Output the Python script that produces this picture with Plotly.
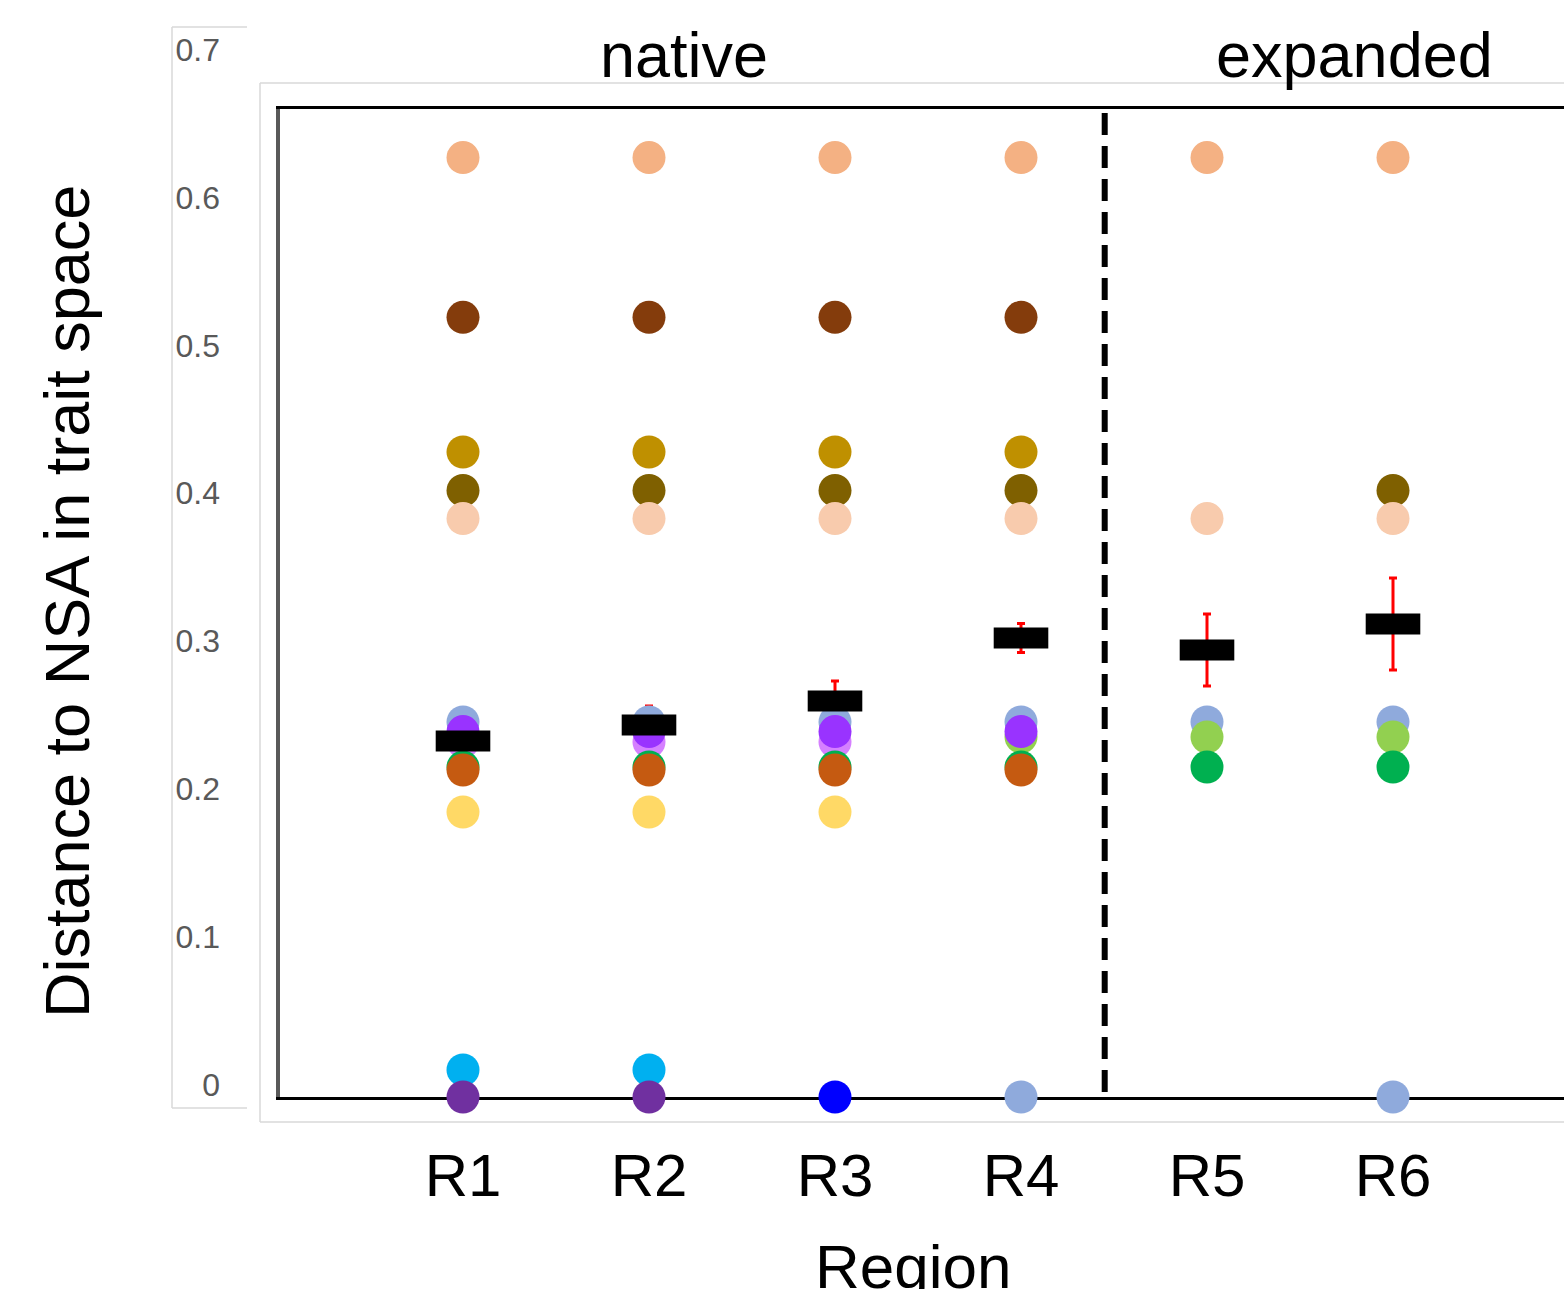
import plotly.graph_objects as go

W, H = 1564, 1289

regions = ["R1", "R2", "R3", "R4", "R5", "R6"]
region_x = [1, 2, 3, 4, 5, 6]

# distances to NSA per region (None = absent)
peach_orange = [0.635, 0.635, 0.635, 0.635, 0.635, 0.635]
brown = [0.527, 0.527, 0.527, 0.527, None, None]
gold = [0.436, 0.436, 0.436, 0.436, None, None]
dark_olive = [0.410, 0.410, 0.410, 0.410, None, 0.410]
light_peach = [0.391, 0.391, 0.391, 0.391, 0.391, 0.391]
blue_gray = [0.2535, 0.2535, 0.2535, 0.2535, 0.2535, 0.2535]
light_green = [None, None, None, 0.2433, 0.2433, 0.2433]
violet = [0.240, 0.240, 0.240, None, None, None]
purple = [0.247, 0.247, 0.247, 0.247, None, None]
green = [0.223, 0.223, 0.223, 0.223, 0.223, 0.223]
rust = [0.221, 0.221, 0.221, 0.221, None, None]
yellow = [0.1926, 0.1926, 0.1926, None, None, None]
cyan = [0.0183, 0.0183, None, None, None, None]
dark_purple = [0.0, 0.0, None, None, None, None]
bright_blue = [None, None, 0.0, None, None, None]
blue_gray_zero = [None, None, None, 0.0, None, 0.0]

mean_dist = [0.2406, 0.2515, 0.2677, 0.3103, 0.3021, 0.3197]
mean_err = [0.004, 0.0128, 0.0135, 0.0098, 0.0243, 0.0311]

y_tick_vals = [0, 0.1, 0.2, 0.3, 0.4, 0.5, 0.6, 0.7]
y_tick_text = ["0", "0.1", "0.2", "0.3", "0.4", "0.5", "0.6", "0.7"]

series = [
    ("peach orange", "#F4B183", peach_orange),
    ("brown", "#843C0C", brown),
    ("gold", "#BF9000", gold),
    ("dark olive", "#7F6000", dark_olive),
    ("light peach", "#F8CBAD", light_peach),
    ("blue gray", "#8FAADC", blue_gray),
    ("light green", "#92D050", light_green),
    ("violet", "#D580FF", violet),
    ("purple", "#9933FF", purple),
    ("green", "#00B050", green),
    ("rust", "#C55A11", rust),
    ("yellow", "#FFD966", yellow),
    ("cyan", "#00B0F0", cyan),
    ("dark purple", "#7030A0", dark_purple),
    ("bright blue", "#0000FF", bright_blue),
    ("blue gray 0", "#8FAADC", blue_gray_zero),
]

FONT = "Liberation Sans, Arial, sans-serif"
PX_PER_UNIT = 1479.4  # pixels per unit of distance

def px(xp):
    return xp / W

def py(yp):
    return 1 - yp / H

fig = go.Figure()

# error bars (beneath dots)
fig.add_trace(go.Scatter(
    x=region_x, y=mean_dist, mode="markers",
    marker=dict(color="rgba(0,0,0,0)", size=1),
    error_y=dict(type="data", array=mean_err, color="red", thickness=3, width=4),
    showlegend=False, hoverinfo="skip", cliponaxis=False,
))

for name, color, vals in series:
    fig.add_trace(go.Scatter(
        x=region_x, y=vals, mode="markers", name=name,
        marker=dict(color=color, size=33, line=dict(width=0)),
        showlegend=False, cliponaxis=False,
    ))

# means
fig.add_trace(go.Scatter(
    x=region_x, y=mean_dist, mode="markers", name="mean",
    marker=dict(symbol="line-ew", size=39, line=dict(color="black", width=21)),
    showlegend=False, cliponaxis=False,
))

# invisible trace for the tick label axis
fig.add_trace(go.Scatter(x=[0], y=[0.3], xaxis="x2", yaxis="y2", mode="markers",
                         marker=dict(color="rgba(0,0,0,0)"), showlegend=False,
                         hoverinfo="skip"))

shapes = []
gray = "#D9D9D9"
# label panel frame
shapes.append(dict(type="line", xref="paper", yref="paper", x0=px(172), x1=px(172), y0=py(27), y1=py(1108), line=dict(color=gray, width=1.5)))
shapes.append(dict(type="line", xref="paper", yref="paper", x0=px(172), x1=px(247), y0=py(27), y1=py(27), line=dict(color=gray, width=1.5)))
shapes.append(dict(type="line", xref="paper", yref="paper", x0=px(172), x1=px(247), y0=py(1108), y1=py(1108), line=dict(color=gray, width=1.5)))
# outer chart frame
shapes.append(dict(type="line", xref="paper", yref="paper", x0=px(260), x1=px(260), y0=py(83), y1=py(1122), line=dict(color=gray, width=1.5)))
shapes.append(dict(type="line", xref="paper", yref="paper", x0=px(260), x1=1, y0=py(83), y1=py(83), line=dict(color=gray, width=1.5)))
shapes.append(dict(type="line", xref="paper", yref="paper", x0=px(260), x1=1, y0=py(1122), y1=py(1122), line=dict(color=gray, width=1.5)))
# native / expanded divider
shapes.append(dict(type="line", xref="x", yref="paper", x0=4.45, x1=4.45, y0=py(1092), y1=py(108),
                   line=dict(color="black", width=6, dash="22px,11px"), layer="above"))

annotations = [
    dict(text="native", x=px(684), y=py(55), xref="paper", yref="paper", showarrow=False,
         xanchor="center", yanchor="middle", font=dict(family=FONT, size=63, color="black")),
    dict(text="expanded", x=px(1354), y=py(55), xref="paper", yref="paper", showarrow=False,
         xanchor="center", yanchor="middle", font=dict(family=FONT, size=63, color="black")),
    dict(text="Region", x=px(913), y=py(1266), xref="paper", yref="paper", showarrow=False,
         xanchor="center", yanchor="middle", font=dict(family=FONT, size=62, color="black")),
    dict(text="Distance to NSA in trait space", x=px(67), y=py(602), xref="paper", yref="paper",
         showarrow=False, textangle=-90, xanchor="center", yanchor="middle",
         font=dict(family=FONT, size=63, color="black")),
]

y_bottom_px, y_top_px = 1097, 109

fig.update_layout(
    width=W, height=H,
    margin=dict(l=0, r=0, t=0, b=0),
    paper_bgcolor="white", plot_bgcolor="white",
    showlegend=False,
    xaxis=dict(domain=[px(280), 1], range=[1 - 183 / 186, 1 + 1101 / 186],
               tickvals=region_x, ticktext=regions, ticks="", ticklabelstandoff=24,
               tickfont=dict(family=FONT, size=60, color="black"),
               showgrid=False, zeroline=False, showline=True, linecolor="black", linewidth=3,
               mirror=True, layer="below traces"),
    yaxis=dict(domain=[py(y_bottom_px), py(y_top_px)],
               range=[0, (y_bottom_px - y_top_px) / PX_PER_UNIT],
               showticklabels=False, ticks="",
               showgrid=False, zeroline=False, showline=True, linecolor="#595959", linewidth=4,
               layer="below traces"),
    xaxis2=dict(domain=[px(221), px(247)], anchor="y2", visible=False, range=[-1, 1]),
    yaxis2=dict(domain=[py(1108), py(27)], anchor="x2", range=[-0.01555, 0.7152],
                tickvals=y_tick_vals, ticktext=y_tick_text, ticks="", showgrid=False,
                zeroline=False, showline=False,
                tickfont=dict(family=FONT, size=32, color="#595959")),
    shapes=shapes,
    annotations=annotations,
)

fig.write_html("out.html", config={"displayModeBar": False},
               post_script="document.body.style.margin='0';")
